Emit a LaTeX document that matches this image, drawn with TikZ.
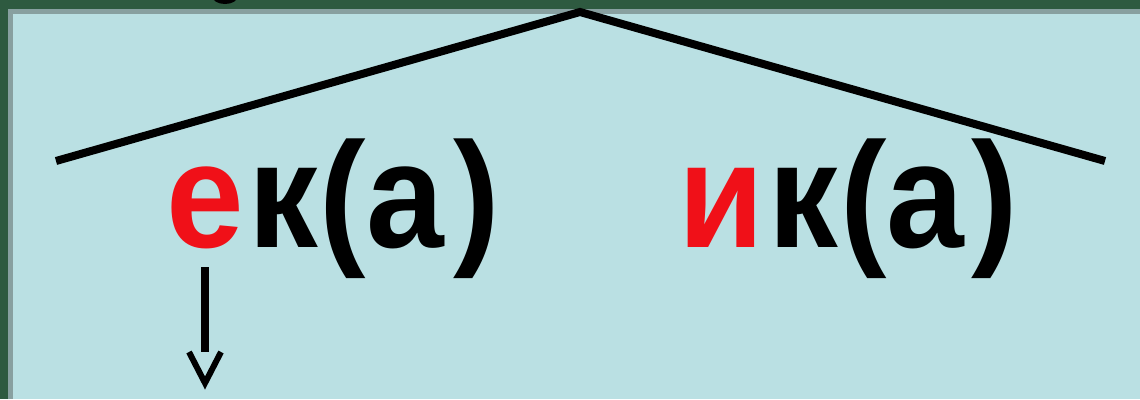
\documentclass[tikz,border=0pt]{standalone}
\usepackage{fontspec}
\usepackage{graphicx}
\setmainfont{Liberation Sans}
\definecolor{bggreen}{HTML}{2E5A40}
\definecolor{panelgrey}{HTML}{88A0A0}
\definecolor{panelblue}{HTML}{BAE0E3}
\definecolor{letterred}{HTML}{F01018}
\newcommand{\wordA}{\scalebox{0.93}[1]{\textcolor{letterred}{е}\kern5pt к\kern2pt(а\kern10pt)}}
\newcommand{\wordB}{\scalebox{0.93}[1]{\textcolor{letterred}{и}\kern5pt к\kern2pt(а\kern8pt)}}
\begin{document}
\begin{tikzpicture}[x=1pt,y=1pt,
  bigword/.style={anchor=base west,inner sep=0pt,font=\fontsize{150}{160}\selectfont\bfseries},
  branch/.style={line width=8pt,black},
  shaft/.style={line width=7.5pt,black},
  barb/.style={line width=6pt,black,line join=miter}]
\useasboundingbox (0,0) rectangle (1140,-399);
\fill[bggreen] (0,0) rectangle (1140,-399);
\fill[panelgrey] (8,-9) rectangle (1140,-399);
\fill[panelblue] (13,-14) rectangle (1140,-399);
\begin{scope}
\clip (0,0) rectangle (1140,-4);
\fill[black] (225,4) ellipse (13 and 8);
\end{scope}
% words
\node[bigword] (w1) at (166,-247) {\wordA};
\node[bigword] (w2) at (678,-247) {\wordB};
% branches
\coordinate (apex) at (580,-12);
\coordinate (lend) at (56,-161);
\coordinate (rend) at (1105,-161);
\draw[branch] (lend) -- (apex) -- (rend);
% arrow
\coordinate (astart) at (205,-267);
\coordinate (aend) at (205,-352);
\coordinate (tip) at (205,-383);
\draw[shaft] (astart) -- (aend);
\draw[barb] (189,-352) -- (tip) -- (221,-352);
\end{tikzpicture}
\end{document}
